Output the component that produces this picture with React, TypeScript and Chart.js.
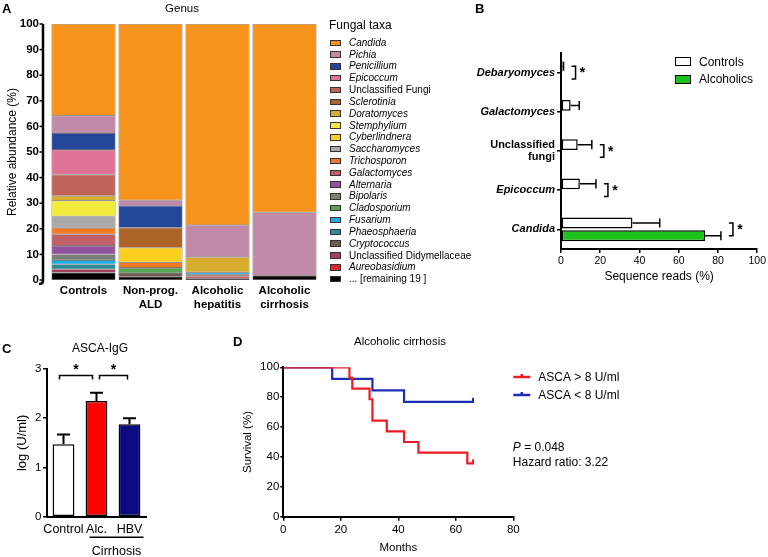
import React, { useEffect, useRef } from 'react';
import { Chart, registerables } from 'chart.js';
Chart.register(...registerables);

const FF = "'Liberation Sans', Arial, Helvetica, sans-serif";

// ---------------- Panel A data ----------------
const groupLabelsA = [['Controls'], ['Non-prog.', 'ALD'], ['Alcoholic', 'hepatitis'], ['Alcoholic', 'cirrhosis']];
const taxaA = ['Candida', 'Pichia', 'Penicillium', 'Epicoccum', 'Unclassified Fungi', 'Sclerotinia', 'Doratomyces', 'Stemphylium', 'Cyberlindnera', 'Saccharomyces', 'Trichosporon', 'Galactomyces', 'Alternaria', 'Bipolaris', 'Cladosporium', 'Fusarium', 'Phaeosphaeria', 'Cryptococcus', 'Unclassified Didymellaceae', 'Aureobasidium', '... [remaining 19 ]'];
const taxaItalicA = [true, true, true, true, false, true, true, true, true, true, true, true, true, true, true, true, true, true, false, true, false];
const taxaColorsA = ['#f7941d', '#c08aa8', '#23469b', '#e07496', '#c0645a', '#ad6428', '#d6ad2f', '#f2ea3c', '#fcd020', '#aaaaaa', '#ee7a25', '#c05f65', '#9152a0', '#7a8079', '#54a556', '#1aaee4', '#2d8b9c', '#6d5d50', '#a0405a', '#e3242b', '#000000'];
const controlsAbund = [35.8, 6.8, 6.6, 9.6, 8.3, 0, 1.9, 6.1, 0, 4.5, 2.6, 4.5, 3.3, 2.2, 0, 1.7, 1.9, 0, 1.3, 0, 2.9];
const nonProgAbund = [68.9, 2.2, 8.5, 0, 0, 7.8, 0, 0, 5.7, 0, 2.2, 0, 0, 0, 2.0, 0, 0, 1.4, 0, 0, 1.3];
const hepatitisAbund = [78.6, 12.5, 0, 0, 0, 0, 5.9, 0, 0, 0, 0, 0, 0, 0, 0, 0.8, 0.3, 0, 0.4, 0.8, 0.7];
const cirrhosisAbund = [73.6, 24.7, 0, 0, 0, 0, 0, 0, 0, 0, 0, 0, 0, 0, 0, 0, 0, 0, 0, 0, 1.7];

// ---------------- Panel B data ----------------
const genusB = ['Debaryomyces', 'Galactomyces', ['Unclassified', 'fungi'], 'Epicoccum', 'Candida'];
const genusItalicB = [true, true, false, true, true];
const ctrlB = [0.8, 4.9, 8.5, 9.6, 36.4];
const ctrlSemB = [0.5, 4.4, 7.2, 8.2, 13.9];
const alcB = [0, 0, 0, 0, 73.4];
const alcSemB = [0, 0, 0, 0, 8.1];
const sigB = [true, false, true, true, true];

// ---------------- Panel C data ----------------
const groupsC = ['Control', 'Alc.', 'HBV'];
const valuesC = [1.47, 2.35, 1.88];
const semC = [0.2, 0.17, 0.12];
const colorsC = ['#ffffff', '#ff0000', '#0b0b80'];
const sigPairsC = [[0, 1], [1, 2]];

// ---------------- Panel D data ----------------
const redTimes = [0, 23, 24, 30, 31, 36, 42, 47, 64, 66];
const redSurv = [100, 92.9, 85.7, 78.6, 64.3, 57.1, 50.0, 42.9, 35.7, 35.7];
const blueTimes = [0, 17, 31, 42, 66];
const blueSurv = [100, 92.3, 84.6, 76.9, 76.9];
const redCensor = [66];
const blueCensor = [66];
const RED = '#ec1c24';
const BLUE = '#1c2db4';

const BLACK = '#000';

function T({ x, y, size, bold, italic, center, children }: any) {
  const style: any = {
    position: 'absolute', left: x, top: y - 0.8465 * size, fontSize: size, lineHeight: `${size}px`,
    fontFamily: FF, fontWeight: bold ? 'bold' : 'normal', fontStyle: italic ? 'italic' : 'normal',
    whiteSpace: 'nowrap', color: '#000',
  };
  if (center) style.transform = 'translateX(-50%)';
  return <div style={style}>{children}</div>;
}

function ChartCanvas({ left, top, width, height, make }: any) {
  const ref = useRef<HTMLCanvasElement>(null);
  useEffect(() => {
    const c = new Chart(ref.current as HTMLCanvasElement, make());
    return () => c.destroy();
  }, []);
  return <canvas ref={ref} width={width} height={height} style={{ position: 'absolute', left, top, width, height }} />;
}

const tickFont = (size: number, bold = false) => ({ family: FF, size, weight: bold ? 'bold' : 'normal' });

function makeA(): any {
  const groups = [controlsAbund, nonProgAbund, hepatitisAbund, cirrhosisAbund];
  const datasets = [];
  for (let k = taxaA.length - 1; k >= 0; k--) {
    datasets.push({
      label: taxaA[k],
      data: groups.map((g) => g[k]),
      backgroundColor: taxaColorsA[k],
      borderColor: 'rgba(60,40,40,0.85)',
      borderWidth: 0.6,
      borderSkipped: false,
      barPercentage: 0.955,
      categoryPercentage: 1,
    });
  }
  const axisPlugin = {
    id: 'axisA',
    afterDraw(chart: any) {
      const { ctx, chartArea, scales } = chart;
      const y = scales.y;
      const ax = chartArea.left - 7;
      ctx.save();
      ctx.strokeStyle = BLACK;
      ctx.lineWidth = 2.5;
      ctx.beginPath();
      ctx.moveTo(ax, chartArea.top);
      ctx.lineTo(ax, chartArea.bottom + 1);
      ctx.quadraticCurveTo(ax, chartArea.bottom + 4, ax - 4, chartArea.bottom + 4);
      ctx.stroke();
      ctx.lineWidth = 1.5;
      y.ticks.forEach((t: any) => {
        const py = y.getPixelForValue(t.value);
        ctx.beginPath();
        ctx.moveTo(ax - 3.5, py);
        ctx.lineTo(ax, py);
        ctx.stroke();
      });
      ctx.restore();
    },
  };
  return {
    type: 'bar',
    data: { labels: groupLabelsA, datasets },
    plugins: [axisPlugin],
    options: {
      animation: false, responsive: false, maintainAspectRatio: false,
      layout: { padding: { top: 24, right: 7, left: 0, bottom: 0 } },
      plugins: { legend: { display: false }, tooltip: { enabled: false } },
      scales: {
        x: {
          stacked: true,
          grid: { display: false, drawTicks: false },
          border: { display: false },
          ticks: { font: tickFont(11.5, true), color: BLACK, padding: 4, maxRotation: 0, minRotation: 0, autoSkip: false },
          afterFit: (s: any) => { s.height = 40; },
        },
        y: {
          stacked: true, min: 0, max: 100,
          grid: { display: false, drawTicks: false },
          border: { display: false },
          ticks: { stepSize: 10, font: tickFont(11.5, true), color: BLACK, padding: 11 },
          title: { display: true, text: 'Relative abundance (%)', font: { family: FF, size: 12 }, color: BLACK, padding: { top: 5, bottom: 0 } },
          afterFit: (s: any) => { s.width = 50; },
        },
      },
    },
  };
}

function makeB(): any {
  const plugin = {
    id: 'errB',
    afterDatasetsDraw(chart: any) {
      const { ctx, scales } = chart;
      const x = scales.x;
      const m0 = chart.getDatasetMeta(0);
      const m1 = chart.getDatasetMeta(1);
      ctx.save();
      ctx.strokeStyle = BLACK;
      ctx.fillStyle = BLACK;
      ctx.lineWidth = 1.5;
      const sets: any[] = [[m0, ctrlB, ctrlSemB], [m1, alcB, alcSemB]];
      sets.forEach(([m, vals, sems]) => {
        m.data.forEach((bar: any, i: number) => {
          if (!sems[i]) return;
          const xb = x.getPixelForValue(vals[i]);
          const xe = x.getPixelForValue(vals[i] + sems[i]);
          const h = bar.height;
          ctx.beginPath();
          ctx.moveTo(xb, bar.y);
          ctx.lineTo(xe, bar.y);
          ctx.moveTo(xe, bar.y - h * 0.42);
          ctx.lineTo(xe, bar.y + h * 0.42);
          ctx.stroke();
        });
      });
      sigB.forEach((sig, i) => {
        if (!sig) return;
        const end = Math.max(ctrlB[i] + ctrlSemB[i], alcB[i] + alcSemB[i]);
        const bx = x.getPixelForValue(end) + 12;
        const y0 = m0.data[i].y;
        const y1 = m1.data[i].y;
        ctx.beginPath();
        ctx.moveTo(bx - 4, y0);
        ctx.lineTo(bx, y0);
        ctx.lineTo(bx, y1);
        ctx.lineTo(bx - 4, y1);
        ctx.stroke();
        ctx.font = `bold 14px ${FF}`;
        ctx.textAlign = 'center';
        ctx.textBaseline = 'middle';
        ctx.fillText('*', bx + 7, (y0 + y1) / 2 + 1);
      });
      ctx.restore();
    },
  };
  const axisGrid = { display: true, drawOnChartArea: false, drawTicks: true, tickLength: 4, color: BLACK, lineWidth: 1.5 };
  return {
    type: 'bar',
    data: {
      labels: genusB,
      datasets: [
        { label: 'Controls', data: ctrlB, backgroundColor: '#ffffff', borderColor: BLACK, borderWidth: 1.5, borderSkipped: false, categoryPercentage: 0.65, barPercentage: 0.85 },
        { label: 'Alcoholics', data: alcB, backgroundColor: '#1ec21e', borderColor: BLACK, borderWidth: 1.5, borderSkipped: false, categoryPercentage: 0.65, barPercentage: 0.85 },
      ],
    },
    plugins: [plugin],
    options: {
      indexAxis: 'y',
      animation: false, responsive: false, maintainAspectRatio: false,
      layout: { padding: { top: 53, right: 10, left: 0, bottom: 0 } },
      plugins: { legend: { display: false }, tooltip: { enabled: false } },
      scales: {
        x: {
          min: 0, max: 100,
          grid: axisGrid,
          border: { display: true, color: BLACK, width: 2 },
          ticks: { stepSize: 20, font: tickFont(10.5), color: BLACK, padding: 2 },
          title: { display: true, text: 'Sequence reads (%)', font: { family: FF, size: 12 }, color: BLACK, padding: { top: 0, bottom: 3 } },
          afterFit: (s: any) => { s.height = 38; },
        },
        y: {
          grid: { ...axisGrid, offset: false },
          border: { display: true, color: BLACK, width: 2 },
          ticks: {
            color: BLACK, padding: 2, autoSkip: false,
            font: (c: any) => ({ family: FF, size: 11, weight: 'bold', style: genusItalicB[c.index] ? 'italic' : 'normal', lineHeight: 1.05 }),
          },
          afterFit: (s: any) => { s.width = 91; },
        },
      },
    },
  };
}

function makeC(): any {
  const plugin = {
    id: 'errC',
    afterDatasetsDraw(chart: any) {
      const { ctx, scales, chartArea } = chart;
      const x = scales.x;
      const y = scales.y;
      const meta = chart.getDatasetMeta(0);
      ctx.save();
      ctx.strokeStyle = BLACK;
      ctx.fillStyle = BLACK;
      ctx.lineWidth = 2;
      meta.data.forEach((bar: any, i: number) => {
        const yt = y.getPixelForValue(valuesC[i]);
        const ye = y.getPixelForValue(valuesC[i] + semC[i]);
        ctx.beginPath();
        ctx.moveTo(bar.x, yt);
        ctx.lineTo(bar.x, ye);
        ctx.moveTo(bar.x - 6.5, ye);
        ctx.lineTo(bar.x + 6.5, ye);
        ctx.stroke();
      });
      ctx.lineWidth = 1.5;
      const by = y.getPixelForValue(2.87);
      sigPairsC.forEach(([a, b], k) => {
        const xa = meta.data[a].x + (k === 0 ? -4 : 3);
        const xb = meta.data[b].x + (k === 0 ? -4 : -2);
        ctx.beginPath();
        ctx.moveTo(xa, by + 4);
        ctx.lineTo(xa, by);
        ctx.lineTo(xb, by);
        ctx.lineTo(xb, by + 4);
        ctx.stroke();
        ctx.font = `bold 14px ${FF}`;
        ctx.textAlign = 'center';
        ctx.textBaseline = 'middle';
        ctx.fillText('*', (xa + xb) / 2, by - 5);
      });
      // cirrhosis underline
      const c1 = x.getPixelForValue(1);
      const c2 = x.getPixelForValue(2);
      const uy = chartArea.bottom + 20.6;
      ctx.lineWidth = 1.5;
      ctx.beginPath();
      ctx.moveTo(c1 - 7, uy);
      ctx.lineTo(c2 + 14, uy);
      ctx.stroke();
      ctx.font = `12.5px ${FF}`;
      ctx.textAlign = 'center';
      ctx.textBaseline = 'alphabetic';
      ctx.fillText('Cirrhosis', (c1 + c2) / 2 + 3.5, chartArea.bottom + 38.5);
      ctx.restore();
    },
  };
  return {
    type: 'bar',
    data: {
      labels: groupsC,
      datasets: [{ data: valuesC, backgroundColor: colorsC, borderColor: BLACK, borderWidth: 1.5, borderSkipped: false, barPercentage: 0.66, categoryPercentage: 1 }],
    },
    plugins: [plugin],
    options: {
      animation: false, responsive: false, maintainAspectRatio: false,
      layout: { padding: { top: 14, right: 14, left: 0, bottom: 0 } },
      plugins: { legend: { display: false }, tooltip: { enabled: false } },
      scales: {
        x: {
          grid: { display: false, drawTicks: false },
          border: { display: true, color: BLACK, width: 2 },
          ticks: { font: tickFont(12.5), color: BLACK, padding: 5, maxRotation: 0, minRotation: 0, autoSkip: false },
          afterFit: (s: any) => { s.height = 40.3; },
        },
        y: {
          min: 0, max: 3,
          grid: { display: true, drawOnChartArea: false, tickLength: 4, color: BLACK, lineWidth: 1.5 },
          border: { display: true, color: BLACK, width: 2 },
          ticks: { stepSize: 1, font: tickFont(11.5), color: BLACK, padding: 1.5 },
          title: { display: true, text: 'log (U/ml)', font: { family: FF, size: 13 }, color: BLACK, padding: { top: 15, bottom: 0 } },
          afterFit: (s: any) => { s.width = 47; },
        },
      },
    },
  };
}

function survAt(times: number[], surv: number[], t: number) {
  let s = surv[0];
  for (let i = 0; i < times.length; i++) if (times[i] <= t) s = surv[i];
  return s;
}

function makeD(): any {
  const plugin = {
    id: 'kmD',
    afterDatasetsDraw(chart: any) {
      const { ctx, scales, chartArea } = chart;
      const x = scales.x;
      const y = scales.y;
      ctx.save();
      ctx.lineWidth = 2;
      const sets: any[] = [[redCensor, redTimes, redSurv, RED], [blueCensor, blueTimes, blueSurv, BLUE]];
      sets.forEach(([cens, times, surv, col]) => {
        ctx.strokeStyle = col;
        cens.forEach((t: number) => {
          const px = x.getPixelForValue(t);
          const py = y.getPixelForValue(survAt(times, surv, t));
          ctx.beginPath();
          ctx.moveTo(px, py + 1);
          ctx.lineTo(px, py - 4);
          ctx.stroke();
        });
      });
      // legend
      const lx = chartArea.right;
      const items: any[] = [['ASCA > 8 U/ml', RED, 22], ['ASCA < 8 U/ml', BLUE, 40]];
      items.forEach(([txt, col, ly]) => {
        ctx.strokeStyle = col;
        ctx.lineWidth = 2.5;
        ctx.beginPath();
        ctx.moveTo(lx, ly);
        ctx.lineTo(lx + 17, ly);
        ctx.moveTo(lx + 8.5, ly);
        ctx.lineTo(lx + 8.5, ly - 3);
        ctx.stroke();
        ctx.fillStyle = BLACK;
        ctx.font = `12px ${FF}`;
        ctx.textAlign = 'left';
        ctx.textBaseline = 'middle';
        ctx.fillText(txt, lx + 25, ly + 0.5);
      });
      ctx.fillStyle = BLACK;
      ctx.textBaseline = 'alphabetic';
      ctx.font = `italic 12px ${FF}`;
      const px0 = lx - 0.5;
      ctx.fillText('P', px0, 96);
      const w = ctx.measureText('P').width;
      ctx.font = `12px ${FF}`;
      ctx.fillText(' = 0.048', px0 + w, 96);
      ctx.fillText('Hazard ratio: 3.22', px0, 111);
      ctx.restore();
    },
  };
  const axisGrid = { display: true, drawOnChartArea: false, drawTicks: true, tickLength: 4, color: BLACK, lineWidth: 1.5 };
  return {
    type: 'line',
    data: {
      datasets: [
        { label: 'ASCA > 8 U/ml', data: redTimes.map((t, i) => ({ x: t, y: redSurv[i] })), borderColor: RED, borderWidth: 2.2, stepped: true, pointRadius: 0, fill: false },
        { label: 'ASCA < 8 U/ml', data: blueTimes.map((t, i) => ({ x: t, y: blueSurv[i] })), borderColor: BLUE, borderWidth: 2.2, stepped: true, pointRadius: 0, fill: false },
      ],
    },
    plugins: [plugin],
    options: {
      animation: false, responsive: false, maintainAspectRatio: false,
      layout: { padding: { top: 12.3, right: 254.7, left: 0, bottom: 0 } },
      plugins: { legend: { display: false }, tooltip: { enabled: false } },
      scales: {
        x: {
          type: 'linear', min: 0, max: 80,
          grid: axisGrid,
          border: { display: true, color: BLACK, width: 2 },
          ticks: { stepSize: 20, font: tickFont(11.5), color: BLACK, padding: 2.4 },
          title: { display: true, text: 'Months', font: { family: FF, size: 11.5 }, color: BLACK, padding: { top: 0, bottom: 2 } },
          afterFit: (s: any) => { s.height = 40.3; },
        },
        y: {
          min: 0, max: 100,
          grid: { ...axisGrid, tickLength: 3 },
          border: { display: true, color: BLACK, width: 2 },
          ticks: { stepSize: 20, font: tickFont(11.5), color: BLACK, padding: 1 },
          title: { display: true, text: 'Survival (%)', font: { family: FF, size: 11.5 }, color: BLACK, padding: { top: 11, bottom: 0 } },
          afterFit: (s: any) => { s.width = 53.3; },
        },
      },
    },
  };
}

export default function App() {
  return (
    <div style={{ position: 'absolute', left: 0, top: 0, width: 768, height: 557, overflow: 'hidden', background: '#fff', fontFamily: FF }}>
      <ChartCanvas left={0} top={0} width={325} height={320} make={makeA} />
      <ChartCanvas left={470} top={0} width={298} height={287} make={makeB} />
      <ChartCanvas left={0} top={355} width={160} height={202} make={makeC} />
      <ChartCanvas left={230} top={355} width={538} height={202} make={makeD} />

      {/* Panel A texts */}
      <T x={2} y={13.5} size={13} bold>A</T>
      <T x={182} y={12.5} size={11.5} center>Genus</T>
      <T x={329} y={29.5} size={12}>Fungal taxa</T>
      {taxaA.map((name, i) => {
        const cy = 42.7 + i * 11.82;
        return (
          <React.Fragment key={name}>
            <div style={{ position: 'absolute', left: 329.5, top: cy - 3.2, width: 11, height: 6.5, boxSizing: 'border-box', border: '1px solid #3a3030', background: taxaColorsA[i] }} />
            <T x={349} y={cy + 3.6} size={10} italic={taxaItalicA[i]}>{name}</T>
          </React.Fragment>
        );
      })}

      {/* Panel B texts */}
      <T x={475} y={13.5} size={13} bold>B</T>
      <div style={{ position: 'absolute', left: 675, top: 57, width: 16, height: 9, boxSizing: 'border-box', border: '1.5px solid #000', background: '#fff' }} />
      <div style={{ position: 'absolute', left: 675, top: 75, width: 16, height: 9, boxSizing: 'border-box', border: '1.5px solid #000', background: '#1ec21e' }} />
      <T x={699} y={65.8} size={12}>Controls</T>
      <T x={699} y={83.3} size={12}>Alcoholics</T>

      {/* Panel C texts */}
      <T x={2} y={353} size={13} bold>C</T>
      <T x={100} y={352} size={12} center>ASCA-IgG</T>

      {/* Panel D texts */}
      <T x={233} y={346.5} size={13} bold>D</T>
      <T x={400} y={345.5} size={11.5} center>Alcoholic cirrhosis</T>
    </div>
  );
}
